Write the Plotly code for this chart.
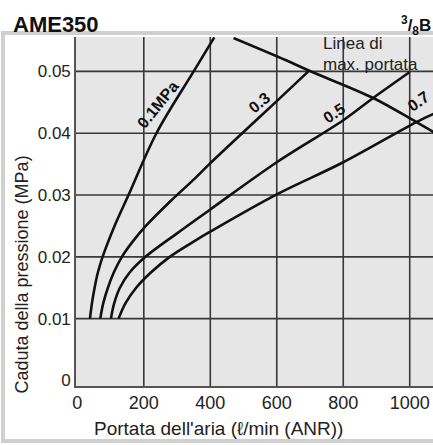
import plotly.graph_objects as go

# ---- data ----
q_01 = [38, 44, 52, 62, 76, 112, 154, 238, 350, 412]
p_01 = [0.010, 0.0125, 0.015, 0.0175, 0.020, 0.025, 0.030, 0.040, 0.050, 0.0555]

q_03 = [69, 78, 92, 110, 134, 167, 206, 280, 354, 401, 500, 600, 695]
p_03 = [0.010, 0.0125, 0.015, 0.0175, 0.020, 0.0225, 0.025, 0.029, 0.0327, 0.0352,
        0.0402, 0.0452, 0.0500]

q_05 = [101, 111, 128, 158, 205, 300, 401, 600, 800, 890, 1000]
p_05 = [0.010, 0.0125, 0.015, 0.0175, 0.020, 0.0238, 0.0277, 0.0353, 0.0421, 0.0457, 0.0499]

q_07 = [124, 145, 177, 222, 278, 351, 401, 600, 800, 1020, 1075]
p_07 = [0.010, 0.0125, 0.015, 0.0175, 0.020, 0.0225, 0.0241, 0.0301, 0.0353, 0.0418, 0.0432]

q_max = [470, 628, 698, 890, 1020, 1075]
p_max = [0.0554, 0.0518, 0.0501, 0.0457, 0.0418, 0.0401]

x_ticks = [0, 200, 400, 600, 800, 1000]
x_tick_text = ["0", "200", "400", "600", "800", "1000"]
y_ticks = [0, 0.01, 0.02, 0.03, 0.04, 0.05]
y_tick_text = ["0", "0.01", "0.02", "0.03", "0.04", "0.05"]

curve_labels = ["0.1MPa", "0.3", "0.5", "0.7"]

# ---- figure ----
W, H = 433, 445
ML, MR, MT, MB = 76, 0, 37, 59
PW, PH = W - ML - MR, H - MT - MB


def px_x(px):
    return (px - ML) / PW


def px_y(py):
    return (H - MB - py) / PH


FONT = "Liberation Sans, Arial, Helvetica, sans-serif"
fig = go.Figure()

line_style = dict(color="#111111", width=2.6, shape="spline", smoothing=1.0)
for q, p in [(q_01, p_01), (q_03, p_03), (q_05, p_05), (q_07, p_07), (q_max, p_max)]:
    fig.add_trace(go.Scatter(x=q, y=p, mode="lines", line=line_style,
                             hoverinfo="skip", showlegend=False))

shapes = []
grid_style = dict(color="#383838", width=1.6)
for xv in x_ticks[1:]:
    shapes.append(dict(type="line", xref="x", yref="paper", x0=xv, x1=xv,
                       y0=0, y1=1, line=grid_style, layer="below"))
for yv in y_ticks[1:]:
    shapes.append(dict(type="line", xref="paper", yref="y", x0=0, x1=1,
                       y0=yv, y1=yv, line=grid_style, layer="below"))
# outer frame
shapes.append(dict(type="rect", xref="paper", yref="paper",
                   x0=px_x(3), x1=px_x(440), y0=px_y(441), y1=px_y(33),
                   line=dict(color="#cfcfcf", width=4), fillcolor="rgba(0,0,0,0)"))

annotations = [
    dict(text="<b>AME350</b>", x=px_x(11), y=px_y(24.5), xref="paper", yref="paper",
         xanchor="left", yanchor="middle", showarrow=False,
         font=dict(family=FONT, size=22, color="#111")),
    dict(text="<b><sup>3</sup>/<sub>8</sub>B</b>", x=px_x(433), y=px_y(25), xref="paper",
         yref="paper", xanchor="right", yanchor="middle", showarrow=False,
         font=dict(family=FONT, size=17, color="#111")),
    dict(text="Linea di", x=px_x(322), y=px_y(54), xref="paper", yref="paper",
         xanchor="left", yanchor="bottom", showarrow=False, borderpad=0,
         font=dict(family=FONT, size=17, color="#222")),
    dict(text="max. portata", x=px_x(322), y=px_y(54), xref="paper", yref="paper",
         xanchor="left", yanchor="top", showarrow=False, borderpad=0,
         font=dict(family=FONT, size=17, color="#222")),
    dict(text="Portata dell'aria (ℓ/min (ANR))", x=px_x(218), y=px_y(428), xref="paper",
         yref="paper", xanchor="center", yanchor="middle", showarrow=False,
         font=dict(family=FONT, size=19, color="#222")),
    dict(text="Caduta della pressione (MPa)", x=px_x(21.5), y=px_y(275), xref="paper",
         yref="paper", xanchor="center", yanchor="middle", showarrow=False, textangle=-90,
         font=dict(family=FONT, size=18, color="#222")),
]

label_pos = [(242, 0.0447, -51), (548, 0.0450, -39), (771, 0.0432, -33), (1025, 0.0452, -35)]
for txt, (lx, ly, ang) in zip(curve_labels, label_pos):
    annotations.append(dict(text="<b>" + txt + "</b>", x=lx, y=ly, xref="x", yref="y",
                            showarrow=False, textangle=ang, xanchor="center", yanchor="middle",
                            font=dict(family=FONT, size=16, color="#111")))

fig.update_layout(
    width=W, height=H, autosize=False,
    margin=dict(l=ML, r=MR, t=MT, b=MB, pad=0),
    paper_bgcolor="white", plot_bgcolor="#e6e6e6",
    shapes=shapes, annotations=annotations,
    xaxis=dict(range=[-4, 1070], tickvals=x_ticks, ticktext=x_tick_text, showgrid=False,
               zeroline=False, showline=True, linecolor="#555", linewidth=1.6,
               ticks="", tickfont=dict(family=FONT, size=18, color="#222"),
               ticklabelstandoff=0, fixedrange=True),
    yaxis=dict(range=[-0.0009, 0.05557], tickvals=y_ticks, ticktext=y_tick_text,
               showgrid=False, zeroline=False, showline=True, linecolor="#555",
               linewidth=1.6, ticks="", tickfont=dict(family=FONT, size=17, color="#222"),
               ticklabelstandoff=0, fixedrange=True),
)

fig.write_html("out.html", config={"displayModeBar": False},
               post_script="document.body.style.margin='0';")
